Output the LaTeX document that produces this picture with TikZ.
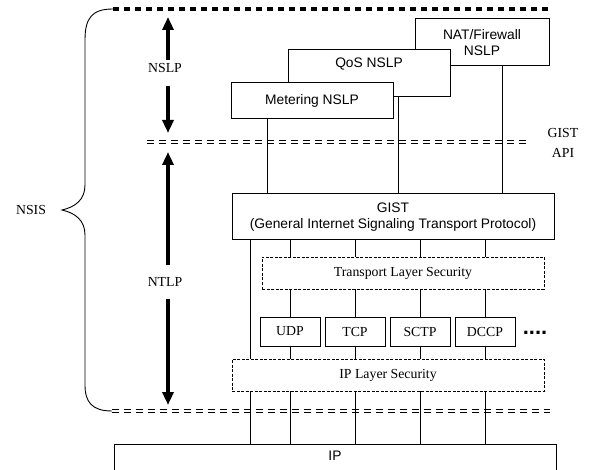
\documentclass[tikz,border=0pt]{standalone}
\usepackage{fontspec}
\setmainfont{Liberation Serif}
\setsansfont{Liberation Sans}
\usepackage{tikz}
\usetikzlibrary{arrows.meta}

\begin{document}
\begin{tikzpicture}[x=1pt, y=-1pt,
    nslp/.style={rectangle, draw=black, line width=1pt, fill=white, align=center,
    inner sep=0pt, font=\sffamily\fontsize{13.8}{15.5}\selectfont},
    sec/.style={rectangle, draw=black, line width=0.9pt, dash pattern=on 3pt off 1.5pt,
    fill=white, minimum height=32pt, font=\fontsize{13.8}{16}\selectfont},
    proto/.style={rectangle, draw=black, line width=0.9pt, fill=white, inner sep=0pt,
    minimum width=60pt, minimum height=29pt, font=\fontsize{13.8}{16}\selectfont},
    lbl/.style={align=center, font=\fontsize{13.8}{16}\selectfont},
    api/.style={double, double distance=1.6pt, line width=1.3pt, dash pattern=on 7pt off 5pt},
    bigarrow/.style={line width=3.5pt, -{Triangle[length=13pt, width=11pt]}}]
	\clip (0, 0) rectangle (589, 470);

	\coordinate (TopL) at (113, 9);
	\coordinate (TopR) at (550, 9);
	\coordinate (ApiL) at (147, 142);
	\coordinate (ApiR) at (530, 142);
	\coordinate (BotL) at (112, 411);
	\coordinate (BotR) at (550, 411);
	\coordinate (Tip) at (62, 210);
	\coordinate (LeftCol) at (250, 300);

	\draw [line width=4pt, dash pattern=on 6pt off 5pt] (TopL) -- (TopR);
	\draw [api] (ApiL) -- (ApiR);
	\draw [api] (BotL) -- (BotR);

	\draw [line width=0.9pt] (TopL) .. controls (92, 9) and (85, 18) .. (85, 40) -- (85, 185)
	    .. controls (85, 200) and (75, 207) .. (Tip)
	    .. controls (75, 213) and (85, 220) .. (85, 235) -- (85, 385)
	    .. controls (85, 402) and (92, 411) .. (BotL);

	\node (NSIS) at (31, 210) [lbl] {NSIS};
	\node (NSLP) at (165, 68) [lbl, inner ysep=3pt] {NSLP};
	\node (NTLP) at (165, 282) [lbl, inner ysep=12pt] {NTLP};
	\node (API) at (563, 143) [lbl, font=\fontsize{13.8}{20}\selectfont] {GIST\\API};

	\coordinate (NslpUp) at (168, 17);
	\coordinate (NslpDn) at (168, 133);
	\coordinate (NtlpUp) at (168, 152);
	\coordinate (NtlpDn) at (168, 405);
	\draw [bigarrow] (NSLP.north -| NslpUp) -- (NslpUp);
	\draw [bigarrow] ([yshift=-10pt]NSLP.south -| NslpDn) -- (NslpDn);
	\draw [bigarrow] (NTLP.north -| NtlpUp) -- (NtlpUp);
	\draw [bigarrow] (NTLP.south -| NtlpDn) -- (NtlpDn);

	\node (NAT) at (482, 42.5) [nslp, minimum width=134pt, minimum height=47pt] {NAT/Firewall\\NSLP};
	\node (QoS) at (369, 73.5) [nslp, minimum width=162pt, minimum height=47pt,
	text height=10pt, text depth=21pt] {QoS NSLP};
	\node (Meter) at (312, 101) [nslp, minimum width=162pt, minimum height=36pt] {Metering NSLP};
	\node (GIST) at (393, 217) [nslp, minimum width=322pt, minimum height=46pt]
	{GIST\\(General Internet Signaling Transport Protocol)};

	\node (TLS) at (403, 273) [sec, minimum width=282pt] {Transport Layer Security};
	\node (UDP) at (290, 331.5) [proto] {UDP};
	\node (TCP) at (355, 331.5) [proto] {TCP};
	\node (SCTP) at (420, 331.5) [proto] {SCTP};
	\node (DCCP) at (485, 331.5) [proto] {DCCP};
	\node (Dots) at (535, 333) [inner sep=0pt, font=\sffamily\bfseries\fontsize{22}{22}\selectfont] {....};
	\node (IPLS) at (388, 375) [sec, minimum width=312pt] {IP Layer Security};
	\node (IP) at (335, 458) [nslp, minimum width=442pt, minimum height=28pt,
	text height=10pt, text depth=6pt] {IP};

	\draw [line width=1pt] ([xshift=-45pt]Meter.south) -- ([xshift=-45pt]Meter.south |- GIST.north);
	\draw [line width=1pt] ([xshift=29pt]QoS.south) -- ([xshift=29pt]QoS.south |- GIST.north);
	\draw [line width=1pt] ([xshift=20pt]NAT.south) -- ([xshift=20pt]NAT.south |- GIST.north);

	\draw [line width=1pt] (LeftCol |- GIST.south) -- (LeftCol |- IPLS.north);
	\draw [line width=1pt] (LeftCol |- IPLS.south) -- (LeftCol |- IP.north);
	\foreach \P in {UDP, TCP, SCTP, DCCP} {
		\draw [line width=1pt] (\P |- GIST.south) -- (\P |- TLS.north);
		\draw [line width=1pt] (\P |- TLS.south) -- (\P.north);
		\draw [line width=1pt] (\P.south) -- (\P |- IPLS.north);
		\draw [line width=1pt] (\P |- IPLS.south) -- (\P |- IP.north);
	}
\end{tikzpicture}
\end{document}
